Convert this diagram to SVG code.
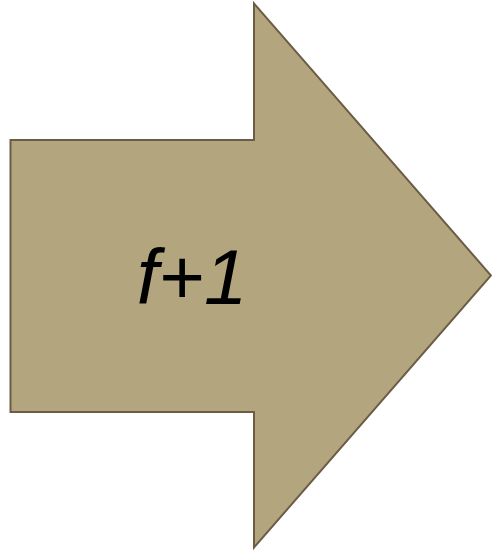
<svg xmlns="http://www.w3.org/2000/svg" width="492" height="551" viewBox="0 0 492 551">
<style>
.arrow{fill:#b3a67e;stroke:#6b5d45;stroke-width:2}
.lbl{font-family:"Liberation Sans",Arial,sans-serif;font-style:italic;font-size:78px;fill:#000}
</style>
<rect width="492" height="551" fill="#fff"/>
<g id="arrow">
<polygon class="arrow" points="10.5,140 254,140 254,3.5 491,275.5 254,547.5 254,412 10.5,412"/>
<text class="lbl" x="192" y="304" text-anchor="middle">f+1</text>
</g>
</svg>
